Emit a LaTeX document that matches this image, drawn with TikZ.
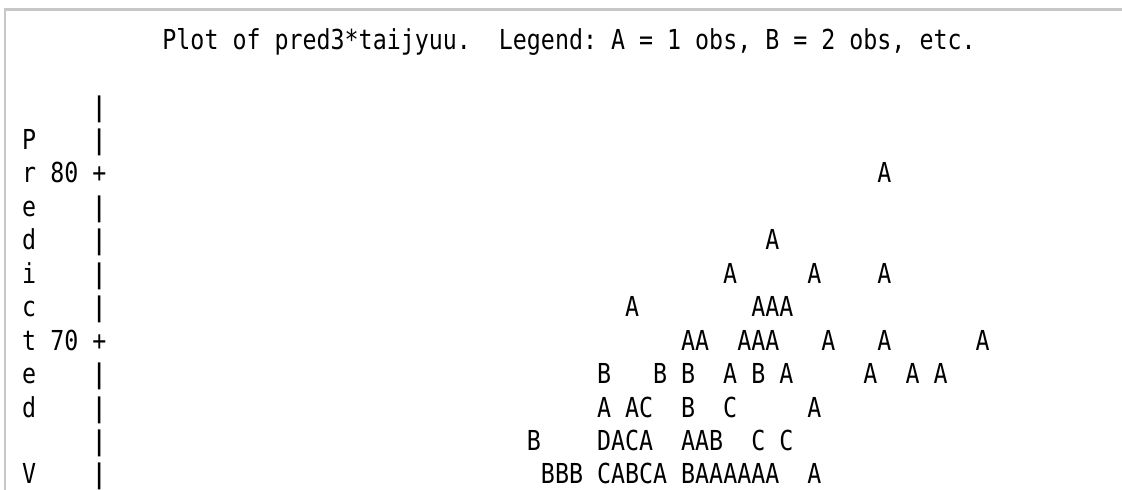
\documentclass[tikz,border=0pt]{standalone}
\usepackage{fontspec}
\newfontfamily\plotfont[FakeStretch=0.847]{DejaVu Sans Mono}
\def\pc{14.02}
\def\pr{33.44}
\def\xo{22.24}
\def\yo{49.2}
\tikzset{
  txt/.style={anchor=base west, inner sep=0pt, outer sep=0pt, font=\plotfont\fontsize{27.5}{27.5}\selectfont},
  bar/.style={txt, font=\plotfont\bfseries\fontsize{27}{27}\selectfont},
  frame/.style={draw=black!22, line width=2.5pt}
}
\newcommand\run[4]{\node[txt] (#1) at ({\xo+#2*\pc},{\yo+#3*\pr}) {#4};}
\newcommand\axbar[2]{\node[bar] (#1) at ({\xo+5*\pc},{\yo+#2*\pr}) {|};}
\begin{document}
\begin{tikzpicture}[x=1pt,y=-1pt]
\useasboundingbox (0,0) rectangle (1122,490);
\coordinate (fa) at (5,490);
\coordinate (fb) at (5,9.5);
\coordinate (fc) at (1122,9.5);
\draw[frame] (fa) -- (fb) -- (fc);
% title
\run{t1}{10}{0}{Plot}
\run{t2}{15}{0}{of}
\run{t3}{18}{0}{pred3*taijyuu.}
\run{t4}{34}{0}{Legend:}
\run{t5}{42}{0}{A}
\run{t6}{44}{0}{=}
\run{t7}{46}{0}{1}
\run{t8}{48}{0}{obs,}
\run{t9}{53}{0}{B}
\run{t10}{55}{0}{=}
\run{t11}{57}{0}{2}
\run{t12}{59}{0}{obs,}
\run{t13}{64}{0}{etc.}
% vertical axis label
\run{l3}{0}{3}{P}
\run{l4}{0}{4}{r}
\run{l5}{0}{5}{e}
\run{l6}{0}{6}{d}
\run{l7}{0}{7}{i}
\run{l8}{0}{8}{c}
\run{l9}{0}{9}{t}
\run{l10}{0}{10}{e}
\run{l11}{0}{11}{d}
\run{l13}{0}{13}{V}
% tick values
\run{v80}{2}{4}{80}
\run{v70}{2}{9}{70}
\run{p80}{5}{4}{+}
\run{p70}{5}{9}{+}
% axis bars
\axbar{b2}{2}
\axbar{b3}{3}
\axbar{b5}{5}
\axbar{b6}{6}
\axbar{b7}{7}
\axbar{b8}{8}
\axbar{b10}{10}
\axbar{b11}{11}
\axbar{b12}{12}
\axbar{b13}{13}
% data
\run{d4a}{61}{4}{A}
\run{d6a}{53}{6}{A}
\run{d7a}{50}{7}{A}
\run{d7b}{56}{7}{A}
\run{d7c}{61}{7}{A}
\run{d8a}{43}{8}{A}
\run{d8b}{52}{8}{AAA}
\run{d9a}{47}{9}{AA}
\run{d9b}{51}{9}{AAA}
\run{d9c}{57}{9}{A}
\run{d9d}{61}{9}{A}
\run{d9e}{68}{9}{A}
\run{d10a}{41}{10}{B}
\run{d10b}{45}{10}{B}
\run{d10c}{47}{10}{B}
\run{d10d}{50}{10}{A}
\run{d10e}{52}{10}{B}
\run{d10f}{54}{10}{A}
\run{d10g}{60}{10}{A}
\run{d10h}{63}{10}{A}
\run{d10i}{65}{10}{A}
\run{d11a}{41}{11}{A}
\run{d11b}{43}{11}{AC}
\run{d11c}{47}{11}{B}
\run{d11d}{50}{11}{C}
\run{d11e}{56}{11}{A}
\run{d12a}{36}{12}{B}
\run{d12b}{41}{12}{DACA}
\run{d12c}{47}{12}{AAB}
\run{d12d}{52}{12}{C}
\run{d12e}{54}{12}{C}
\run{d13a}{37}{13}{BBB}
\run{d13b}{41}{13}{CABCA}
\run{d13c}{47}{13}{BAAAAAA}
\run{d13d}{56}{13}{A}
\end{tikzpicture}
\end{document}
